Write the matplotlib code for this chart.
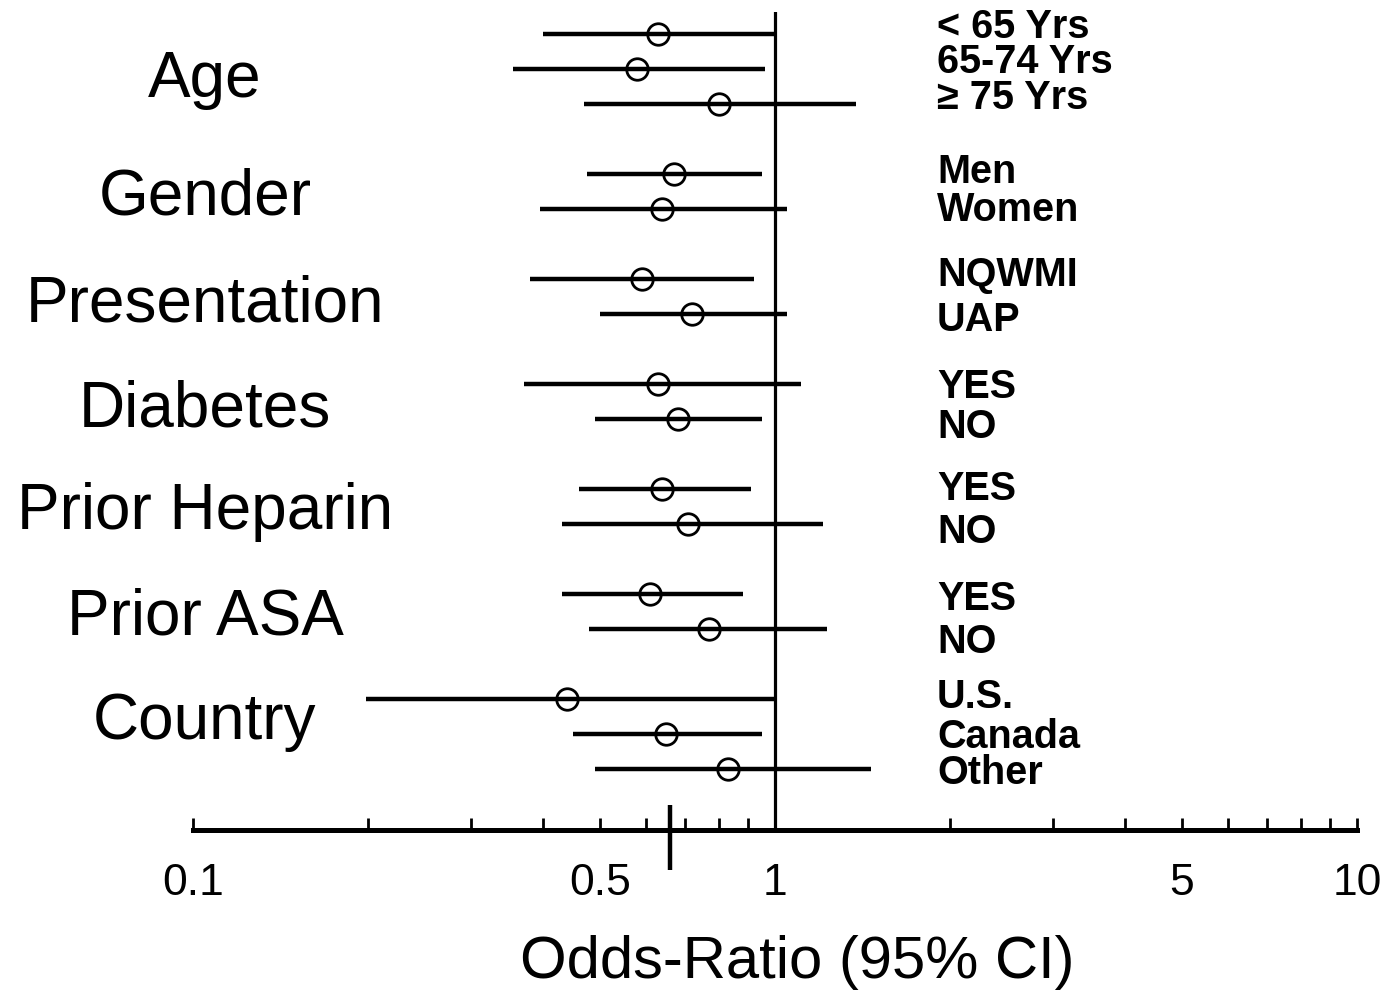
import matplotlib
matplotlib.use("Agg")
import matplotlib.pyplot as plt
from matplotlib.ticker import FixedLocator, NullFormatter
import matplotlib.transforms as mtransforms

plt.rcParams['font.family'] = ['Liberation Sans', 'DejaVu Sans']

# ---- data ----
groups = ["Age", "Gender", "Presentation", "Diabetes", "Prior Heparin", "Prior ASA", "Country"]
subgroups = [
    ["< 65 Yrs", "65-74 Yrs", "\u2265 75 Yrs"],
    ["Men", "Women"],
    ["NQWMI", "UAP"],
    ["YES", "NO"],
    ["YES", "NO"],
    ["YES", "NO"],
    ["U.S.", "Canada", "Other"],
]
odds_ratio = [0.63, 0.58, 0.80, 0.67, 0.64, 0.59, 0.72, 0.63, 0.68, 0.64, 0.71, 0.61, 0.77, 0.44, 0.65, 0.83]
ci_low     = [0.40, 0.355, 0.47, 0.475, 0.395, 0.38, 0.50, 0.37, 0.49, 0.46, 0.43, 0.43, 0.48, 0.198, 0.45, 0.49]
ci_high    = [1.00, 0.96, 1.38, 0.95, 1.05, 0.92, 1.05, 1.11, 0.95, 0.91, 1.21, 0.88, 1.23, 1.00, 0.95, 1.46]
overall_or = 0.66
tick_values = [0.1, 0.5, 1, 5, 10]
tick_labels = ["0.1", "0.5", "1", "5", "10"]
xlabel = "Odds-Ratio (95% CI)"

# ---- layout ----
W, H = 1393, 992
fig = plt.figure(figsize=(W / 100, H / 100), dpi=100)
ax_left, ax_right, ax_top, ax_bot = 193, 1357, 12, 830
ax = fig.add_axes([ax_left / W, 1 - ax_bot / H, (ax_right - ax_left) / W, (ax_bot - ax_top) / H])
ax.set_xscale('log')
ax.set_xlim(0.1, 10)
row_px, row0_px = 35.0, 34.0
ax.set_ylim((ax_bot - row0_px) / row_px, (ax_top - row0_px) / row_px)

# row positions: one unit per row plus one extra unit between groups
ypos = []
group_rows = []
idx = 0
for g, subs in enumerate(subgroups):
    rows = []
    for s in subs:
        ypos.append(idx + g)
        rows.append(idx + g)
        idx += 1
    group_rows.append(rows)

# CI lines and points
for y, o, lo, hi in zip(ypos, odds_ratio, ci_low, ci_high):
    ax.plot([lo, hi], [y, y], color='black', lw=3.2, solid_capstyle='butt', zorder=2)
ax.plot(odds_ratio, ypos, linestyle='none', marker='o', markersize=15.5,
        markerfacecolor='none', markeredgecolor='black', markeredgewidth=2.0, zorder=3)

# reference line at 1
ax.axvline(1, color='black', lw=2.3, zorder=1)

# overall odds ratio marker crossing the axis
trans = mtransforms.blended_transform_factory(ax.transData, ax.transAxes)
ax.plot([overall_or, overall_or], [25 / (ax_bot - ax_top), -40 / (ax_bot - ax_top)],
        transform=trans, color='black', lw=3.2, clip_on=False, solid_capstyle='butt')

# axes styling
for sp in ['top', 'right', 'left']:
    ax.spines[sp].set_visible(False)
ax.spines['bottom'].set_linewidth(3.6)
ax.yaxis.set_visible(False)
ax.xaxis.set_major_locator(FixedLocator(tick_values))
ax.set_xticklabels(tick_labels)
minor = [v * d for d in (0.1, 1) for v in range(2, 10)]
minor = [m for m in minor if all(abs(m - t) > 1e-9 for t in tick_values)]
ax.xaxis.set_minor_locator(FixedLocator(minor))
ax.xaxis.set_minor_formatter(NullFormatter())
ax.tick_params(axis='x', which='both', direction='in', length=9, width=2.0, color='black')
ax.tick_params(axis='x', which='major', labelsize=32, pad=24)

# x label
fig.text(797 / W, 1 - 963 / H, xlabel, fontsize=43, ha='center', va='center')

# group labels
label_shift = [0.15, 0.0, 0.05, 0.05, 0.0, 0.0, -0.5]
for g, name in enumerate(groups):
    rows = group_rows[g]
    yc = sum(rows) / len(rows) + label_shift[g]
    ax.annotate(name, xy=(205 / W, yc), xycoords=(fig.transFigure, ax.transData),
                xytext=(0, -16.5), textcoords='offset points',
                ha='center', va='baseline', fontsize=46, annotation_clip=False)

# subgroup labels
flat_subs = [s for subs in subgroups for s in subs]
sub_shift = [-0.28, -0.28, -0.25, -0.15, -0.05, -0.2, 0.1, 0.0, 0.15, -0.08, 0.15, 0.05, 0.28, -0.15, 0.0, 0.03]
for y, s, sh in zip(ypos, flat_subs, sub_shift):
    ax.annotate(s, xy=(937 / W, y + sh), xycoords=(fig.transFigure, ax.transData),
                xytext=(0, -10), textcoords='offset points',
                ha='left', va='baseline', fontsize=28.5, fontweight='bold', annotation_clip=False)

fig.savefig('out.png', dpi=100)
